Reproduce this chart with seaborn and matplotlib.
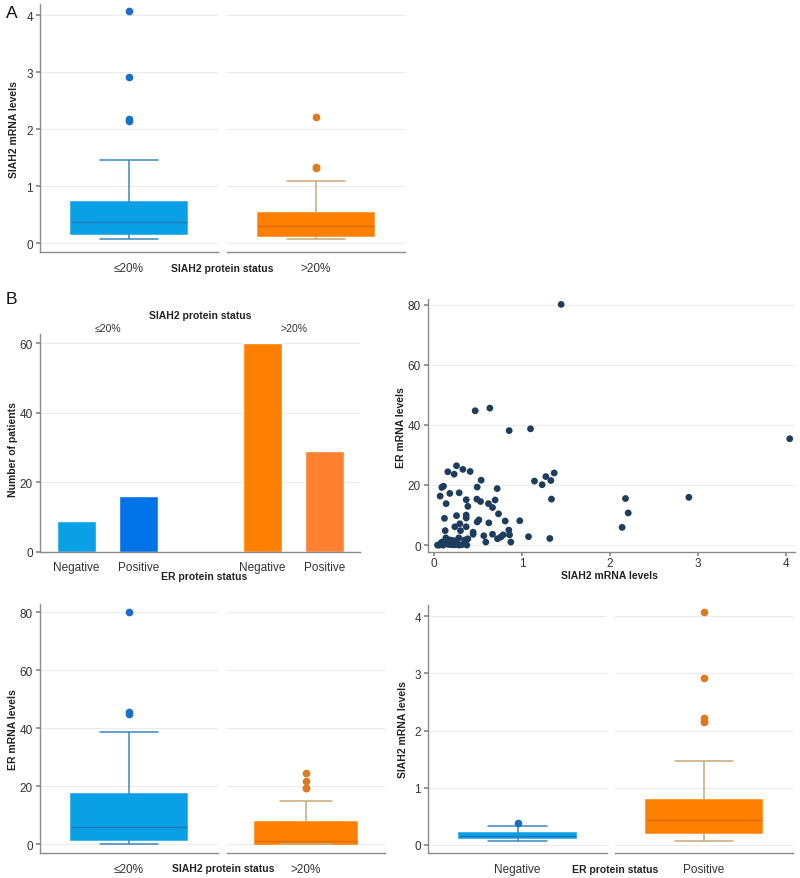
import matplotlib
matplotlib.use("Agg")
import matplotlib.pyplot as plt
import numpy as np
import pandas as pd
import seaborn as sns

# ---- data ----
protein_groups = ["≤20%", ">20%"]
er_groups = ["Negative", "Positive"]

# A: SIAH2 mRNA by SIAH2 protein status
siah2_le20 = [0.07, 0.09, 0.11, 0.13, 0.15, 0.17, 0.20, 0.24, 0.28, 0.33, 0.37,
              0.42, 0.48, 0.55, 0.64, 0.73, 1.46, 2.15, 2.18, 2.92, 4.07]
siah2_gt20 = [0.07, 0.08, 0.09, 0.10, 0.12, 0.135, 0.16, 0.19, 0.22, 0.26, 0.30,
              0.34, 0.38, 0.43, 0.49, 0.54, 0.80, 1.09, 1.32, 1.34, 2.22]

# B (bars): patients by SIAH2 protein status and ER protein status
bar_keys = ["le20_neg", "le20_pos", "gt20_neg", "gt20_pos"]
bar_counts = [9, 16, 60, 29]
bar_colors = ["#0aa0e6", "#0073e6", "#ff8000", "#ff8030"]

# B (scatter): SIAH2 mRNA vs ER mRNA
siah2_mrna = [1.443, 0.466, 0.633, 0.852, 1.095, 4.04, 0.254, 0.326, 0.409, 0.155,
              0.227, 1.364, 1.269, 0.534, 1.140, 1.326, 1.227, 0.106, 0.087, 0.489,
              0.716, 0.284, 0.178, 0.068, 0.364, 0.485, 0.527, 0.693, 1.333, 2.174,
              2.894, 0.136, 0.617, 0.663, 0.383, 0.731, 2.205, 0.254, 0.364, 0.364,
              0.117, 0.807, 0.973, 0.508, 0.489, 0.621, 0.292, 0.235, 0.364, 2.136,
              0.299, 0.125, 0.443, 0.848, 0.443, 0.663, 0.564, 0.784, 0.758, 0.856,
              0.720, 1.072, 1.314, 0.383, 0.587, 0.871, 0.280, 0.345, 0.314, 0.371,
              0.057, 0.072, 0.095, 0.106, 0.125, 0.140, 0.151, 0.167, 0.182, 0.197,
              0.208, 0.220, 0.235, 0.250, 0.265, 0.280, 0.038, 0.087, 0.117, 0.163,
              0.186, 0.204, 0.114, 0.083, 0.133, 0.170, 0.220, 0.246, 0.155, 0.102]
er_mrna = [80.1, 44.7, 45.6, 38.1, 38.7, 35.4, 26.4, 25.2, 24.5, 24.4,
           23.6, 24.0, 22.8, 21.6, 21.3, 21.5, 20.1, 19.6, 19.2, 19.3,
           18.8, 17.4, 17.2, 16.3, 15.1, 15.3, 14.5, 15.0, 15.3, 15.5,
           15.9, 13.8, 13.8, 12.5, 12.9, 10.4, 10.7, 9.8, 10.0, 9.0,
           8.9, 8.0, 8.1, 8.4, 7.7, 7.4, 7.1, 6.1, 6.1, 5.9,
           4.8, 4.8, 4.3, 5.0, 3.6, 3.6, 3.1, 3.4, 2.7, 3.4,
           2.1, 2.8, 2.2, 2.1, 1.0, 1.0, 2.4, 1.7, 0.1, 0.0,
           0.0, 0.3, 0.7, 0.1, 1.3, 2.0, 0.6, 1.3, 1.7, 0.3,
           1.3, 0.7, 0.1, 0.9, 0.4, 0.0, 0.0, 1.0, 0.6, 0.2,
           0.4, 0.1, 0.9, 0.7, 2.4, 1.3, 1.5, 1.1, 0.8, 0.0]

# B (bottom left): ER mRNA by SIAH2 protein status
er_le20 = [0, 0.3, 0.6, 0.9, 1.2, 1.6, 2.5, 3.4, 4.3, 5.2, 6.1,
           7.5, 9.5, 12.0, 14.5, 17.5, 25.0, 38.7, 44.8, 45.8, 80.0]
er_gt20 = [0, 0.05, 0.1, 0.12, 0.15, 0.2, 0.3, 0.45, 0.6, 0.8, 1.0,
           1.8, 2.8, 4.0, 5.6, 7.7, 15.1, 19.3, 19.5, 21.7, 24.7]

# B (bottom right): SIAH2 mRNA by ER protein status
siah2_er_neg = [0.065, 0.08, 0.09, 0.095, 0.10, 0.11, 0.12, 0.13, 0.14, 0.145, 0.15,
                0.16, 0.17, 0.18, 0.19, 0.20, 0.22, 0.25, 0.29, 0.33, 0.38]
siah2_er_pos = [0.065, 0.09, 0.11, 0.13, 0.15, 0.18, 0.205, 0.24, 0.27, 0.31, 0.35,
                0.39, 0.43, 0.48, 0.53, 0.59, 0.65, 0.71, 0.78, 1.46, 2.15, 2.17,
                2.22, 2.92, 4.07]

# ---- styling ----
BLUE = dict(fill="#0aa0e6", whisker="#3a86c0", median="#1c78b8", flier="#1a6fc8")
ORANGE = dict(fill="#ff8000", whisker="#c9a878", median="#d86e0a", flier="#e07a20")
AXIS = "#8a8a8a"
GRID = "#ececec"
TXT = "#333333"

sns.set_theme(style="white")
plt.rcParams["font.family"] = ["Liberation Sans", "DejaVu Sans"]

W, H = 800, 879
fig = plt.figure(figsize=(W / 100, H / 100), dpi=100)


def rect(l, t, r, b):
    return [l / W, 1 - b / H, (r - l) / W, (b - t) / H]


def style_axis(ax, show_y=True):
    sns.despine(ax=ax, top=True, right=True, left=not show_y)
    for s in ("left", "bottom"):
        ax.spines[s].set_color(AXIS)
        ax.spines[s].set_linewidth(1)
    ax.grid(axis="y", color=GRID, linewidth=0.8)
    ax.grid(axis="x", visible=False)
    ax.set_axisbelow(True)
    ax.tick_params(axis="y", left=show_y, length=3, color=AXIS,
                   labelsize=8.5, labelcolor=TXT, labelleft=show_y, pad=2)
    ax.tick_params(axis="x", bottom=False, labelsize=8.5, labelcolor=TXT, pad=1.5)


def one_box(ax, vals, pal, label, ylim, yticks, show_y):
    sns.boxplot(y=vals, ax=ax, width=0.65, color=pal["fill"], saturation=1,
                linewidth=1.1,
                boxprops=dict(facecolor=pal["fill"], edgecolor=pal["fill"]),
                whiskerprops=dict(color=pal["whisker"]),
                capprops=dict(color=pal["whisker"]),
                medianprops=dict(color=pal["median"], linewidth=1),
                flierprops=dict(marker="o", markersize=4.5,
                                markerfacecolor=pal["flier"],
                                markeredgecolor=pal["flier"]))
    ax.set_xlim(-0.5, 0.5)
    ax.set_ylim(*ylim)
    ax.set_yticks(yticks)
    ax.set_xticks([0])
    ax.set_xticklabels([label])
    ax.set_xlabel("")
    ax.set_ylabel("")
    style_axis(ax, show_y)


def box_panel(xl, xr, t, b, left_vals, right_vals, labels, ylim, yticks):
    axl = fig.add_axes(rect(xl[0], t, xl[1], b))
    axr = fig.add_axes(rect(xr[0], t, xr[1], b))
    one_box(axl, left_vals, BLUE, labels[0], ylim, yticks, True)
    one_box(axr, right_vals, ORANGE, labels[1], ylim, yticks, False)
    return axl, axr


def ftext(x, y, s, **kw):
    fig.text(x / W, 1 - y / H, s, **kw)


lab = dict(fontsize=7.5, fontweight="bold", color="#222222")

# ---- panel A ----
box_panel((40, 218), (227, 405), 5, 253, siah2_le20, siah2_gt20,
          protein_groups, (-0.15, 4.2), [0, 1, 2, 3, 4])
ftext(222, 269, "SIAH2 protein status", ha="center", va="center", **lab)
ftext(14, 130, "SIAH2 mRNA levels", rotation=90, ha="center", va="center", **lab)
ftext(6, 14, "A", fontsize=12.5, ha="left", va="center", color="#111111")
ftext(6, 299, "B", fontsize=12.5, ha="left", va="center", color="#111111")

# ---- panel B: bars ----
ax_bar = fig.add_axes(rect(40, 335, 360, 553))
bar_order = [bar_keys[0], bar_keys[1], "gap", bar_keys[2], bar_keys[3]]
bar_df = pd.DataFrame({"key": bar_keys, "count": bar_counts})
sns.barplot(data=bar_df, x="key", y="count", hue="key", order=bar_order,
            hue_order=bar_keys, palette=dict(zip(bar_keys, bar_colors)),
            width=0.63, saturation=1, legend=False, ax=ax_bar)
ax_bar.set_xlim(-0.59, 4.57)
ax_bar.set_ylim(0, 62.7)
ax_bar.set_yticks([0, 20, 40, 60])
ax_bar.set_xticks([0, 1, 3, 4])
ax_bar.set_xticklabels(er_groups + er_groups)
ax_bar.set_xlabel("")
ax_bar.set_ylabel("")
style_axis(ax_bar)
ax_bar.tick_params(axis="x", pad=0.5)
ax_bar.text(0.5, 1.005, protein_groups[0], transform=ax_bar.get_xaxis_transform(),
            ha="center", va="bottom", fontsize=7.5, color=TXT)
ax_bar.text(3.5, 1.005, protein_groups[1], transform=ax_bar.get_xaxis_transform(),
            ha="center", va="bottom", fontsize=7.5, color=TXT)
ftext(200, 316, "SIAH2 protein status", ha="center", va="center", **lab)
ftext(204, 577, "ER protein status", ha="center", va="center", **lab)
ftext(13, 450, "Number of patients", rotation=90, ha="center", va="center", **lab)

# ---- panel B: scatter ----
ax_sc = fig.add_axes(rect(428, 300, 795, 553))
sns.scatterplot(x=siah2_mrna, y=er_mrna, ax=ax_sc, color="#1d3d5e", s=24,
                edgecolor="none", legend=False)
ax_sc.set_xlim(-0.07, 4.10)
ax_sc.set_ylim(-2.3, 81.9)
ax_sc.set_xticks([0, 1, 2, 3, 4])
ax_sc.set_yticks([0, 20, 40, 60, 80])
style_axis(ax_sc)
ax_sc.tick_params(axis="x", bottom=True, length=3, color=AXIS, pad=0.5)
ftext(609, 576, "SIAH2 mRNA levels", ha="center", va="center", **lab)
ftext(401, 428, "ER mRNA levels", rotation=90, ha="center", va="center", **lab)

# ---- panel B: bottom left ----
box_panel((40, 218), (227, 385), 605, 854, er_le20, er_gt20,
          protein_groups, (-3.0, 82.9), [0, 20, 40, 60, 80])
ftext(223, 869, "SIAH2 protein status", ha="center", va="center", **lab)
ftext(13, 730, "ER mRNA levels", rotation=90, ha="center", va="center", **lab)

# ---- panel B: bottom right ----
box_panel((428, 607), (615, 793), 606, 854, siah2_er_neg, siah2_er_pos,
          er_groups, (-0.146, 4.2), [0, 1, 2, 3, 4])
ftext(615, 870, "ER protein status", ha="center", va="center", **lab)
ftext(403, 730, "SIAH2 mRNA levels", rotation=90, ha="center", va="center", **lab)

fig.savefig("out.png", dpi=100, facecolor="white")
